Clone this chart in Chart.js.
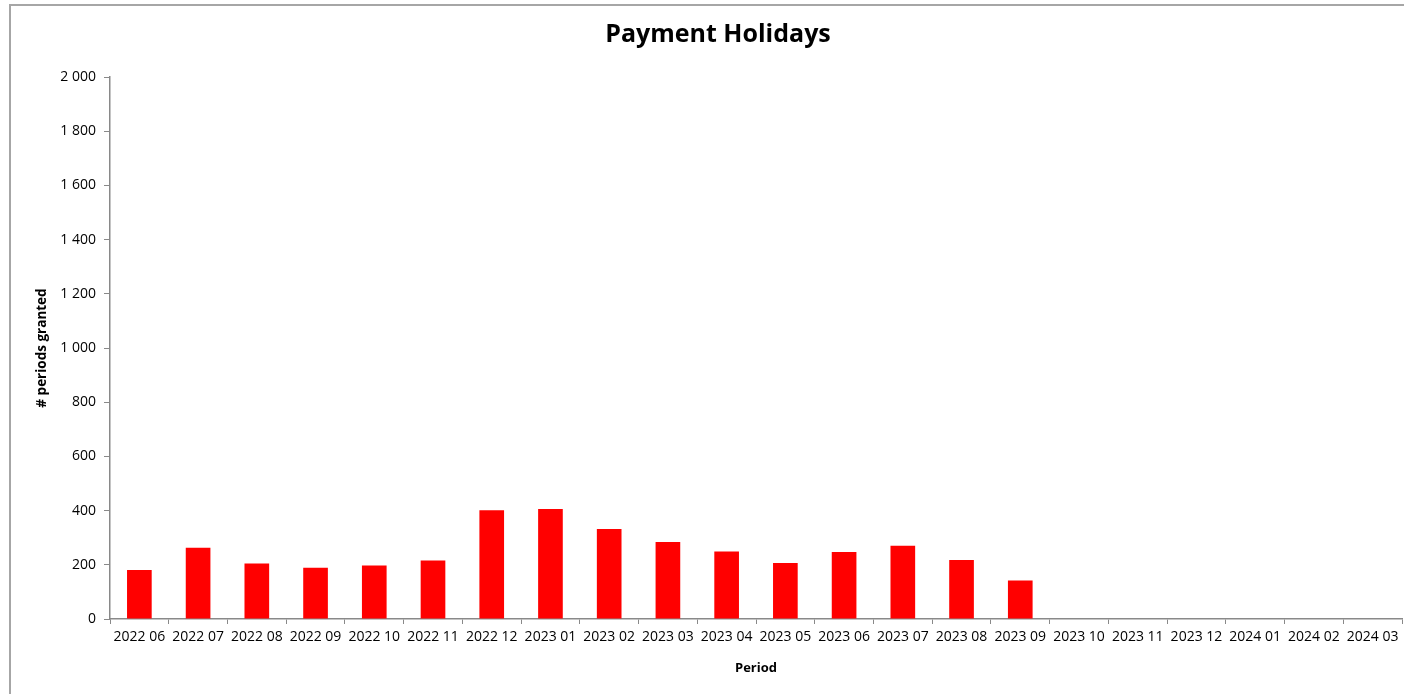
<!DOCTYPE html>
<html>
<head>
<meta charset="utf-8">
<script src="https://cdn.jsdelivr.net/npm/chart.js@4"></script>
<style>
  body { margin: 0; background: #fff; overflow: hidden; }
  #frame { position: absolute; left: 9px; top: 4px; width: 1500px; height: 800px; border: 2px solid #a6a6a6; }
  #chart { position: absolute; left: 0; top: 0; }
</style>
</head>
<body>
<div id="frame"></div>
<canvas id="chart" width="1404" height="694"></canvas>
<script>
// periods on the x axis
let periods = ['2022 06', '2022 07', '2022 08', '2022 09', '2022 10', '2022 11', '2022 12',
               '2023 01', '2023 02', '2023 03', '2023 04', '2023 05', '2023 06', '2023 07',
               '2023 08', '2023 09', '2023 10', '2023 11', '2023 12', '2024 01', '2024 02', '2024 03'];
// number of periods granted, nothing yet from 2023 10 on
let granted = [181, 263, 205, 189, 197, 216, 401, 406, 332, 284, 249, 207, 247, 270, 218, 142,
               null, null, null, null, null, null];
let yTicks = [0, 200, 400, 600, 800, 1000, 1200, 1400, 1600, 1800, 2000];

let axisGrey = '#898989';
let font = "'Open Sans', sans-serif";

// "2 000" style labels
function spaced(v) {
    return String(v).replace(/\B(?=(\d{3})+(?!\d))/g, ' ');
}

new Chart('chart', {
    type: 'bar',
    data: {
        labels: periods,
        datasets: [{
            data: granted,
            backgroundColor: '#ff0000',
            borderWidth: 0,
            barPercentage: 0.42,
            categoryPercentage: 1
        }]
    },
    options: {
        responsive: false,
        animation: false,
        layout: { padding: { left: 34, right: 2, top: 0, bottom: 18 } },
        plugins: {
            legend: { display: false },
            tooltip: { enabled: false },
            title: {
                display: true,
                text: 'Payment Holidays',
                color: '#000',
                font: { family: font, size: 25, weight: 'bold' },
                padding: { top: 20, bottom: 27 }
            }
        },
        scales: {
            x: {
                grid: { display: true, drawOnChartArea: false, drawTicks: true, tickLength: 5, color: axisGrey, offset: true },
                border: { display: true, color: axisGrey, width: 1.5 },
                ticks: { color: '#000', font: { family: font, size: 14 }, maxRotation: 0, autoSkip: false, padding: 5 },
                title: { display: true, text: 'Period', color: '#000', font: { family: font, size: 13, weight: 'bold' }, padding: 0 },
                afterFit: s => { s.height = 57; }
            },
            y: {
                min: 0,
                max: 2000,
                afterBuildTicks: s => { s.ticks = yTicks.map(v => ({ value: v })); },
                grid: { display: true, drawOnChartArea: false, drawTicks: true, tickLength: 6, color: axisGrey },
                border: { display: true, color: axisGrey, width: 1.5 },
                ticks: { color: '#000', font: { family: font, size: 14 }, padding: 8, callback: v => spaced(v) },
                title: { display: true, text: '# periods granted', color: '#000', font: { family: font, size: 13.5, weight: 'bold' }, padding: 0 },
                afterFit: s => { s.width = 76; }
            }
        }
    }
});
</script>
</body>
</html>
